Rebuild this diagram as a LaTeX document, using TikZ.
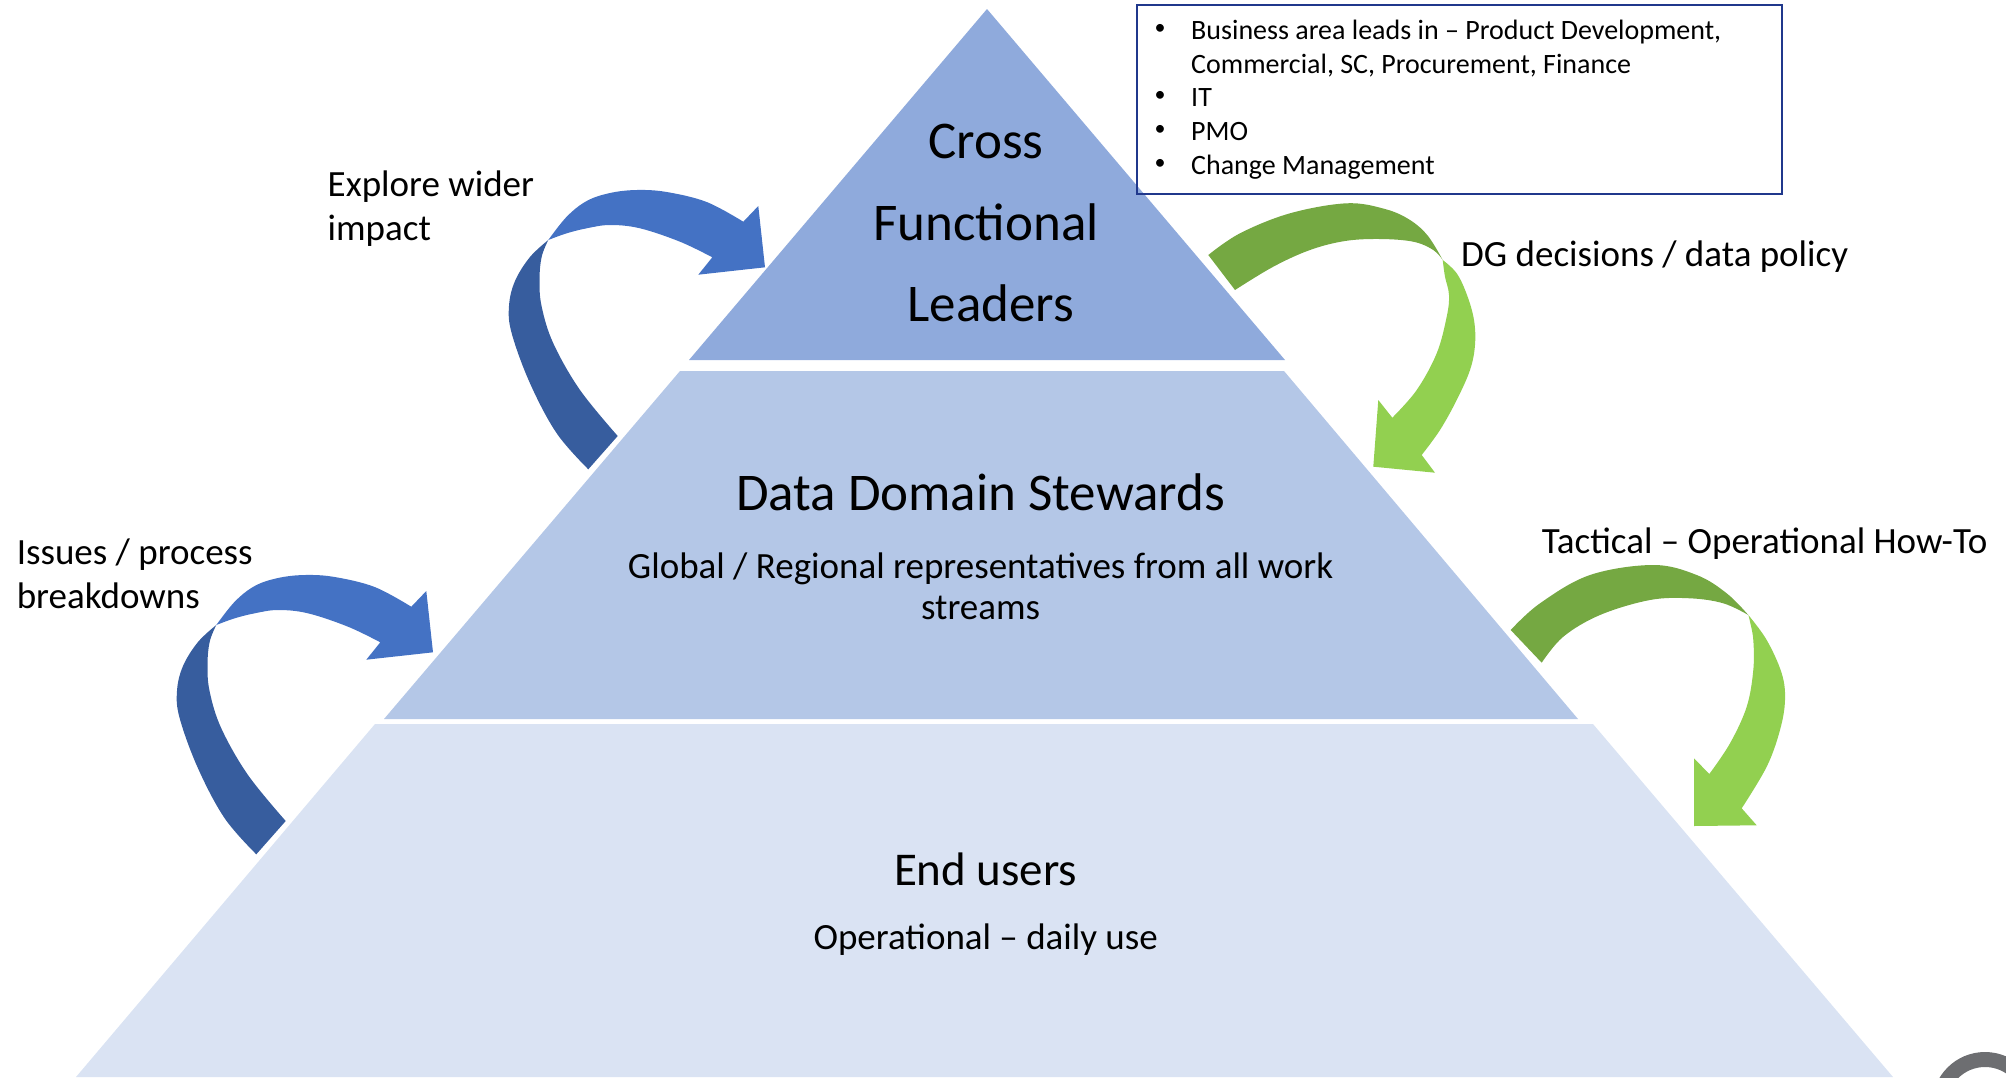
\documentclass[tikz,border=0pt]{standalone}
\usepackage{fontspec}
\setmainfont{Carlito}
\definecolor{tierone}{HTML}{8FAADC}
\definecolor{tiertwo}{HTML}{B4C7E7}
\definecolor{tierthree}{HTML}{DAE3F3}
\definecolor{bluelight}{HTML}{4472C4}
\definecolor{bluedark}{RGB}{55,93,158}
\definecolor{greenlight}{HTML}{92D050}
\definecolor{greendark}{RGB}{117,168,66}
\definecolor{boxblue}{RGB}{32,56,140}
\definecolor{logogrey}{HTML}{6D6E71}
\begin{document}
\begin{tikzpicture}[x=1pt,y=-1pt,
  big/.style={inner sep=0pt,anchor=base,font=\fontsize{53}{60}\selectfont},
  mid/.style={inner sep=0pt,anchor=base,font=\fontsize{47}{54}\selectfont},
  small/.style={inner sep=0pt,anchor=base,font=\fontsize{37}{44}\selectfont},
  side/.style={inner sep=0pt,anchor=base west,font=\fontsize{37}{44}\selectfont},
  boxtxt/.style={inner sep=0pt,anchor=base west,font=\fontsize{28}{34}\selectfont},
  bulletmark/.style={inner sep=0pt,anchor=center,font=\fontsize{22}{26}\selectfont},
  sm/.style={smooth,tension=0.6}]
\useasboundingbox (0,0) rectangle (2006,1077);
\clip (0,0) rectangle (2006,1077);

% pyramid tiers
\fill[tierone] (987,9) -- (689,360) -- (1285,360) -- cycle;
\fill[tiertwo] (680,371) -- (1284,371) -- (1578,719) -- (384,719) -- cycle;
\fill[tierthree] (375,724) -- (1593,724) -- (1893,1077) -- (76,1077) -- cycle;

% blue curved arrows (top one and shifted copy)
\foreach \dx/\dy in {0/0,-332/385}{
\begin{scope}[shift={(\dx,\dy)}]
\fill[bluedark] plot[sm] coordinates {(588.3,469.3) (556.7,433.3) (530,383.3) (511.7,333.3) (509,306) (515,281) (530,257) (548.3,240)}
  -- plot[sm] coordinates {(548.3,240) (541.7,256.7) (539.5,280) (541.7,306.7) (553.3,343.3) (580,390) (617.7,436)} -- cycle;
\fill[bluelight] plot[sm] coordinates {(548.3,240) (566.7,216.7) (586.7,201) (610,193) (636.7,190) (666.7,192) (706.7,202) (743.3,221.7)}
  -- (758.3,206) -- (765,267.3) -- (698.3,274.7)
  -- plot[sm] coordinates {(712.3,257.3) (680,241.7) (640,228.3) (610,225) (586.7,228.3) (566.7,233.3) (548.3,240)} -- cycle;
\end{scope}}

% green curved arrow (top)
\fill[greendark] plot[sm] coordinates {(1208.3,255) (1240,233.3) (1290,213.3) (1346.7,203.3) (1385,209) (1410,220) (1428,236) (1442.7,260)}
  -- plot[sm] coordinates {(1442.7,260) (1433.3,250) (1413.3,241.7) (1380,239) (1345,241) (1310,250) (1273.3,266.7) (1235,290)} -- cycle;
\fill[greenlight] plot[sm] coordinates {(1442.7,260) (1456.7,273.3) (1467,295) (1474,320) (1475,345) (1470,370) (1456.7,400) (1440,430) (1421.7,455)}
  -- (1435,472.7) -- (1373.3,466.7) -- (1378.3,400)
  -- plot[sm] coordinates {(1392.3,417.7) (1416.7,390) (1436.7,353.3) (1446.7,316.7) (1449,295) (1445,276.7) (1442.7,260)} -- cycle;

% green curved arrow (bottom)
\fill[greendark] plot[sm] coordinates {(1510.7,630) (1540,603.3) (1590,575) (1653.3,565) (1696.7,575) (1726.7,593.3) (1748.3,615)}
  -- plot[sm] coordinates {(1748.3,615) (1723.3,603.3) (1690,598.3) (1650,600) (1600,615) (1563.3,636.7) (1541.7,662.7)} -- cycle;
\fill[greenlight] plot[sm] coordinates {(1748.3,615) (1766.7,640) (1781.7,673.3) (1785,700) (1780,730) (1766.7,766.7) (1741.7,808.3)}
  -- (1756.7,825.3) -- (1694,826) -- (1694,758.3)
  -- plot[sm] coordinates {(1709.3,774) (1730,743.3) (1746.7,706.7) (1753.3,670) (1753.3,640) (1750,621.7) (1748.3,615)} -- cycle;

% logo fragment
\fill[logogrey,even odd rule] (1985,1105) circle[radius=53pt] (1985,1105) circle[radius=38pt];

% tier texts
\node[big] (cf1) at (986,158) {Cross};
\node[big] (cf2) at (986,240) {Functional};
\node[big] (cf3) at (991,321) {Leaders};
\node[big] (dds) at (980.6,510) {Data Domain Stewards};
\node[small] (glob1) at (980.6,578) {Global / Regional representatives from all work};
\node[small] (glob2) at (980.6,619) {streams};
\node[mid] (eu) at (985.7,885) {End users};
\node[small] (op) at (985.7,949) {Operational – daily use};

% side labels
\node[side] (ex1) at (327.5,196) {Explore wider};
\node[side] (ex2) at (327.5,240) {impact};
\node[side] (is1) at (16.6,564) {Issues / process};
\node[side] (is2) at (16.6,608) {breakdowns};
\node[side] (dg) at (1461,266) {DG decisions / data policy};
\node[side] (tac) at (1541.6,553) {Tactical – Operational How-To};

% leaders box
\node[draw=boxblue,line width=2pt,minimum width=645pt,minimum height=189pt,anchor=north west,inner sep=0pt] (leadbox) at (1136,4) {};
\foreach \yy/\tt [count=\i] in {39/{Business area leads in – Product Development,},106.5/{IT},140/{PMO},174/{Change Management}}{
  \node[bulletmark] (bul\i) at (1160,\yy-10) {•};
  \node[boxtxt] (bt\i) at (1191,\yy) {\tt};
}
\node[boxtxt] (bt5) at (1191,73) {Commercial, SC, Procurement, Finance};
\end{tikzpicture}
\end{document}
